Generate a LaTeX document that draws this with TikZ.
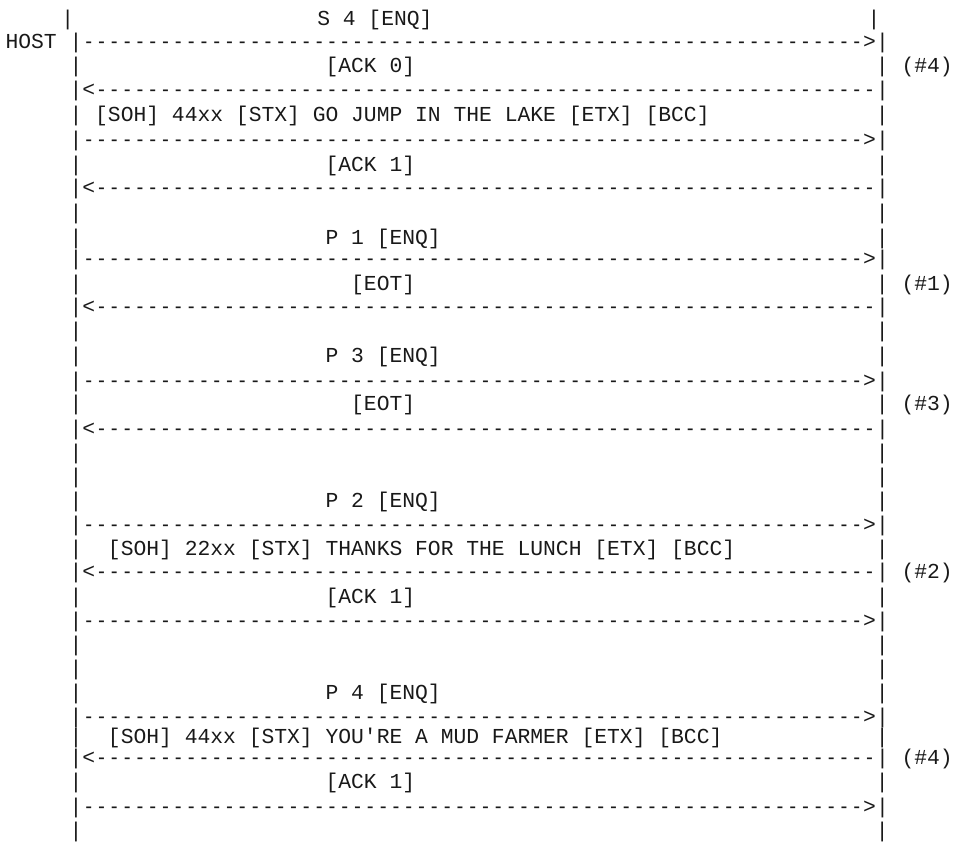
\documentclass[tikz,border=0pt]{standalone}
\usepackage{fontspec}
\usepackage{graphicx}
\newfontfamily\asciimono{Liberation Mono}
\newlength\cw
\setlength\cw{12.8pt}
\newcommand\tx[2]{\rlap{\hspace*{#1\cw}#2}}
\newcount\dcnt
\newcommand\onedash{\makebox[\cw]{\scalebox{0.85}[1]{-}}}
\newcommand\dashes[1]{\dcnt=0 \loop\onedash\advance\dcnt by 1 \ifnum\dcnt<#1 \repeat}
\newcommand\rowbox[1]{\makebox[74\cw][l]{#1}}
\newcommand\dashR{\tx{5}{|\dashes{61}>|}}
\newcommand\dashL{\tx{5}{|<\dashes{61}|}}
\newcommand\pipes{\tx{5}{|}\tx{68}{|}}
\tikzset{row/.style={anchor=base west, inner sep=0pt, outer sep=0pt,
  text=black!90, font=\asciimono\fontsize{21.333}{24}\selectfont}}
\begin{document}
\begin{tikzpicture}[x=1pt,y=1pt]
\useasboundingbox (0,0) rectangle (953,846);
\node[row] (r1)  at (-2.7,{846-26})    {\rowbox{\pipes\tx{25}{S 4 [ENQ]}}};
\node[row] (r2)  at (5.6,{846-49})     {\rowbox{\tx{0}{HOST}\dashR}};
\node[row] (r3)  at (5.6,{846-72.5})   {\rowbox{\pipes\tx{25}{[ACK 0]}\tx{70}{(\#4)}}};
\node[row] (r4)  at (5.6,{846-96.5})   {\rowbox{\dashL}};
\node[row] (r5)  at (5.6,{846-121.5})  {\rowbox{\pipes\tx{7}{[SOH] 44xx [STX] GO JUMP IN THE LAKE [ETX] [BCC]}}};
\node[row] (r6)  at (5.6,{846-147})    {\rowbox{\dashR}};
\node[row] (r7)  at (5.6,{846-172})    {\rowbox{\pipes\tx{25}{[ACK 1]}}};
\node[row] (r8)  at (5.6,{846-195})    {\rowbox{\dashL}};
\node[row] (r9)  at (5.6,{846-220})    {\rowbox{\pipes}};
\node[row] (r10) at (5.6,{846-244.5})  {\rowbox{\pipes\tx{25}{P 1 [ENQ]}}};
\node[row] (r11) at (5.6,{846-266})    {\rowbox{\dashR}};
\node[row] (r12) at (5.6,{846-291})    {\rowbox{\pipes\tx{27}{[EOT]}\tx{70}{(\#1)}}};
\node[row] (r13) at (5.6,{846-313.5})  {\rowbox{\dashL}};
\node[row] (r14) at (5.6,{846-338})    {\rowbox{\pipes}};
\node[row] (r15) at (5.6,{846-362.5})  {\rowbox{\pipes\tx{25}{P 3 [ENQ]}}};
\node[row] (r16) at (5.6,{846-387.5})  {\rowbox{\dashR}};
\node[row] (r17) at (5.6,{846-411})    {\rowbox{\pipes\tx{27}{[EOT]}\tx{70}{(\#3)}}};
\node[row] (r18) at (5.6,{846-435.3})  {\rowbox{\dashL}};
\node[row] (r19) at (5.6,{846-459.5})  {\rowbox{\pipes}};
\node[row] (r20) at (5.6,{846-483.5})  {\rowbox{\pipes}};
\node[row] (r21) at (5.6,{846-507.5})  {\rowbox{\pipes\tx{25}{P 2 [ENQ]}}};
\node[row] (r22) at (5.6,{846-531.5})  {\rowbox{\dashR}};
\node[row] (r23) at (5.6,{846-556})    {\rowbox{\pipes\tx{8}{[SOH] 22xx [STX] THANKS FOR THE LUNCH [ETX] [BCC]}}};
\node[row] (r24) at (5.6,{846-578.5})  {\rowbox{\dashL\tx{70}{(\#2)}}};
\node[row] (r25) at (5.6,{846-603.5})  {\rowbox{\pipes\tx{25}{[ACK 1]}}};
\node[row] (r26) at (5.6,{846-628})    {\rowbox{\dashR}};
\node[row] (r27) at (5.6,{846-651.8})  {\rowbox{\pipes}};
\node[row] (r28) at (5.6,{846-675.6})  {\rowbox{\pipes}};
\node[row] (r29) at (5.6,{846-699.4})  {\rowbox{\pipes\tx{25}{P 4 [ENQ]}}};
\node[row] (r30) at (5.6,{846-723.2})  {\rowbox{\dashR}};
\node[row] (r31) at (5.6,{846-743.5})  {\rowbox{\pipes\tx{8}{[SOH] 44xx [STX] YOU\textquotesingle RE A MUD FARMER [ETX] [BCC]}}};
\node[row] (r32) at (5.6,{846-765})    {\rowbox{\dashL\tx{70}{(\#4)}}};
\node[row] (r33) at (5.6,{846-789})    {\rowbox{\pipes\tx{25}{[ACK 1]}}};
\node[row] (r34) at (5.6,{846-813})    {\rowbox{\dashR}};
\node[row] (r35) at (5.6,{846-837})    {\rowbox{\pipes}};
\end{tikzpicture}
\end{document}
